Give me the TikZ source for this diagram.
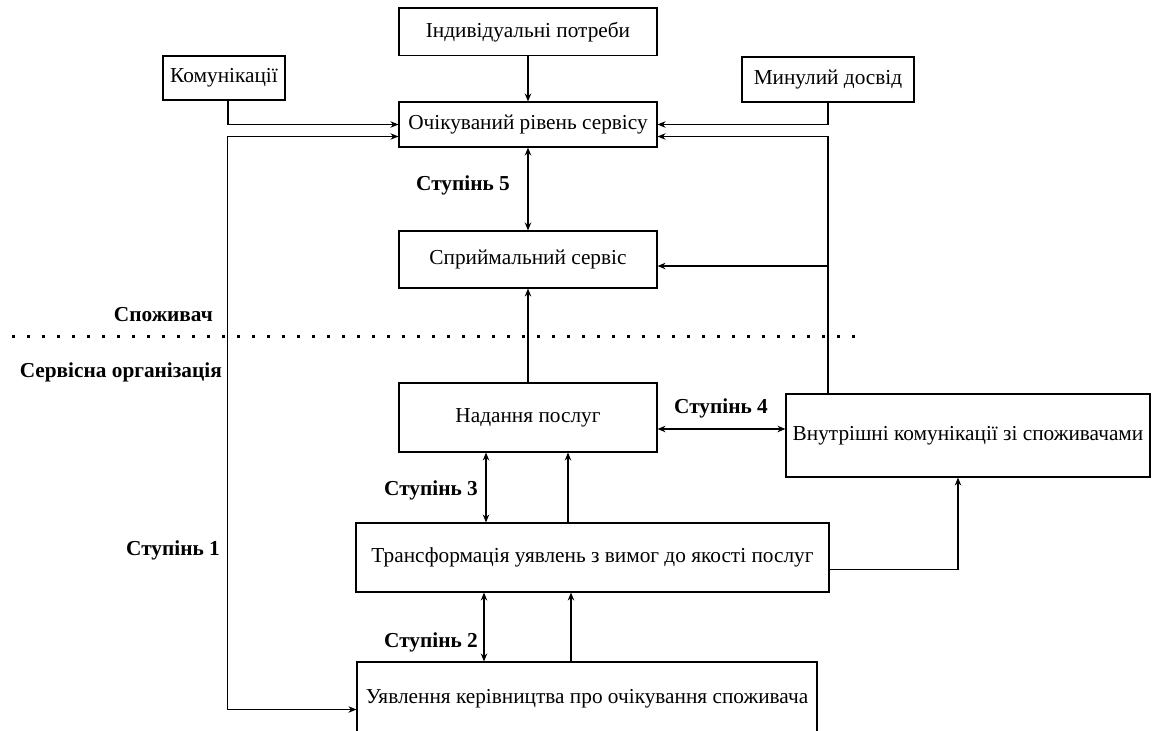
\documentclass[tikz,border=0pt]{standalone}
\usepackage{fontspec}
\setmainfont{Liberation Serif}
\usepackage{tikz}
\usetikzlibrary{arrows.meta}
\tikzset{box/.style={draw, line width=1.1pt, inner sep=0pt, font=\fontsize{21.3}{25}\selectfont},
 lbl/.style={font=\fontsize{21.3}{25}\selectfont\bfseries, inner sep=0pt},
 arr/.style={line width=1.1pt, -{Stealth[length=8pt,width=6.5pt]}},
 dbl/.style={line width=1.1pt, {Stealth[length=8pt,width=6.5pt]}-{Stealth[length=8pt,width=6.5pt]}},
 sepline/.style={line width=3pt, dash pattern=on 3pt off 12pt},
 }

\begin{document}
\begin{tikzpicture}[x=1pt,y=-1pt]
        \useasboundingbox (0,0) rectangle (1152,731);
        % boxes
        \node[box, minimum width=258pt, minimum height=47.5pt] (needs) at (528,31.75) {Індивідуальні потреби};
        \node[box, minimum width=122pt, minimum height=44pt] (comm) at (224,78) {Комунікації};
        \node[box, minimum width=172pt, minimum height=45pt] (past) at (828,79.5) {Минулий досвід};
        \node[box, minimum width=258pt, minimum height=45pt] (expect) at (528,124.5) {Очікуваний рівень сервісу};
        \node[box, minimum width=258pt, minimum height=57pt] (perceived) at (528,259.5) {Сприймальний сервіс};
        \node[box, minimum width=258pt, minimum height=69pt] (delivery) at (528,417.5) {Надання послуг};
        \node[box, minimum width=364pt, minimum height=83pt] (internal) at (968,435.5) {Внутрішні комунікації зі споживачами};
        \node[box, minimum width=473pt, minimum height=69pt] (transform) at (592.5,557.5) {Трансформація уявлень з вимог до якості послуг};
        \node[box, minimum width=460pt, minimum height=73pt] (mgmt) at (587,698.5) {Уявлення керівництва про очікування споживача};
        % labels
        \node[lbl, anchor=east] (consumer) at (213,315) {Споживач};
        \node[lbl, anchor=east] (org) at (222,372) {Сервісна організація};
        \node[lbl] (st1) at (173,550) {Ступінь 1};
        \node[lbl] (st2) at (431,642) {Ступінь 2};
        \node[lbl] (st3) at (431,490) {Ступінь 3};
        \node[lbl] (st4) at (721,408) {Ступінь 4};
        \node[lbl] (st5) at (463,185) {Ступінь 5};
        % helpers
        \coordinate (fb) at (828,394);
        \coordinate (fbmid) at (828,266);
        \coordinate (xa) at (486,0);
        \coordinate (xb) at (568,0);
        \coordinate (xc) at (484,0);
        \coordinate (xd) at (571,0);
        % boundary
        \draw[sepline] (12,336) -- (866,336);
        % connectors
        \draw[arr] (needs) -- (expect);
        \draw[arr] ([xshift=4pt]comm.south) |- (expect.west);
        \draw[dbl] ([yshift=-12pt]expect.west) -- ++(-171,0) |- ([yshift=-11pt]mgmt.west);
        \draw[arr] (past.south) |- (expect.east);
        \draw[arr] (fb) |- ([yshift=-12pt]expect.east);
        \draw[arr] (fbmid) -- (fbmid -| perceived.east);
        \draw[dbl] (expect) -- (perceived);
        \draw[arr] (delivery) -- (perceived);
        \draw[dbl] ([yshift=-11.5pt]delivery.east) -- ([yshift=-11.5pt]delivery.east -| internal.west);
        \draw[dbl] (delivery.south -| xa) -- (transform.north -| xa);
        \draw[arr] (transform.north -| xb) -- (delivery.south -| xb);
        \draw[arr] ([yshift=-12pt]transform.east) -| ([xshift=-10pt]internal.south);
        \draw[dbl] (transform.south -| xc) -- (mgmt.north -| xc);
        \draw[arr] (mgmt.north -| xd) -- (transform.south -| xd);
    \end{tikzpicture}
\end{document}
